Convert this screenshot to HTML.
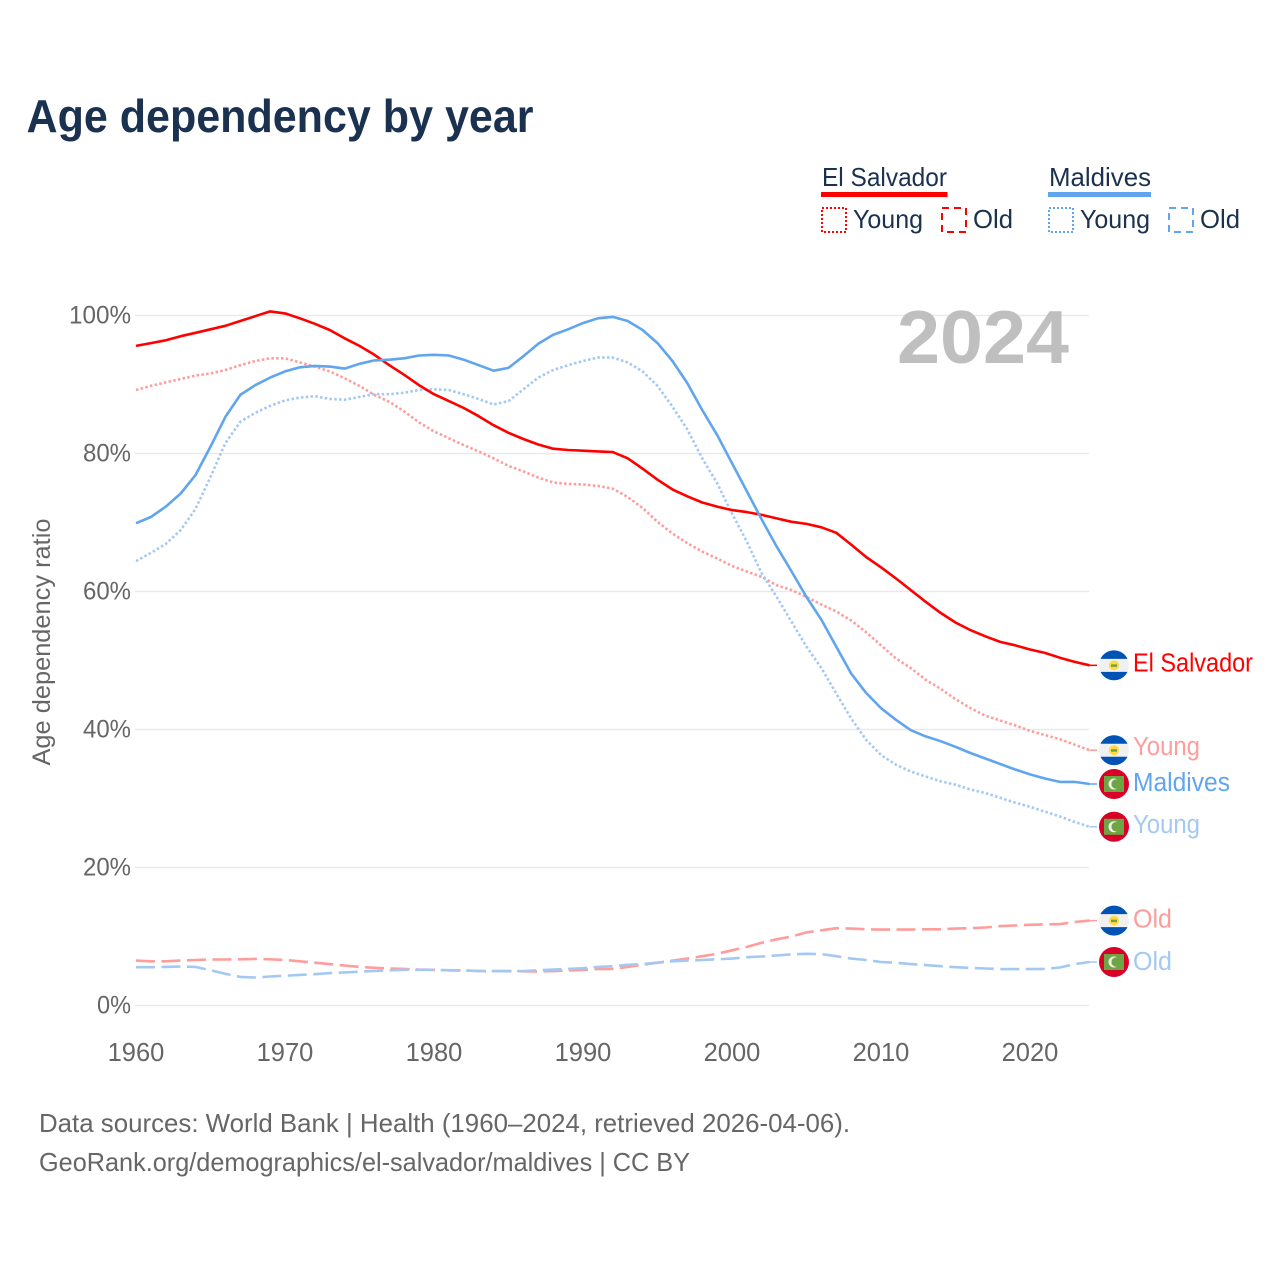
<!DOCTYPE html>
<html lang="en">
<head>
<meta charset="utf-8">
<title>Age dependency by year</title>
<style>
html,body{margin:0;padding:0;background:#fff;width:1280px;height:1280px;overflow:hidden}
svg{display:block}
text{font-family:"Liberation Sans",sans-serif}
</style>
</head>
<body>
<svg id="chart" width="1280" height="1280" viewBox="0 0 1280 1280" xmlns="http://www.w3.org/2000/svg">
  <rect x="0" y="0" width="1280" height="1280" fill="#fff"/>
  <text x="26.500" y="132" font-size="46" font-weight="700" fill="#1a3150" textLength="507" lengthAdjust="spacingAndGlyphs">Age dependency by year</text>

  <g font-size="26" fill="#1a3150">
    <text x="822" y="186" textLength="125" lengthAdjust="spacingAndGlyphs">El Salvador</text>
    <rect x="821" y="192" width="126.500" height="5" fill="#ff0000"/>
    <rect x="822" y="208" width="24" height="24" fill="none" stroke="#ff0000" stroke-width="2" stroke-dasharray="2 2"/>
    <text x="853" y="228" textLength="70" lengthAdjust="spacingAndGlyphs">Young</text>
    <rect x="942" y="208" width="24" height="24" fill="none" stroke="#ff0000" stroke-width="2" stroke-dasharray="7 5"/>
    <text x="973" y="228" textLength="40" lengthAdjust="spacingAndGlyphs">Old</text>

    <text x="1049" y="186" textLength="102" lengthAdjust="spacingAndGlyphs">Maldives</text>
    <rect x="1048" y="192" width="103" height="5" fill="#60a5ee"/>
    <rect x="1049" y="208" width="24" height="24" fill="none" stroke="#60a5ee" stroke-width="2" stroke-dasharray="2 2"/>
    <text x="1080" y="228" textLength="70" lengthAdjust="spacingAndGlyphs">Young</text>
    <rect x="1169" y="208" width="24" height="24" fill="none" stroke="#60a5ee" stroke-width="2" stroke-dasharray="7 5"/>
    <text x="1200" y="228" textLength="40" lengthAdjust="spacingAndGlyphs">Old</text>
  </g>

  <g id="grid"></g>
  <g id="yticks"></g>
  <g id="xticks"></g>

  <text transform="translate(50,642) rotate(-90)" text-anchor="middle" font-size="25" fill="#666" textLength="247" lengthAdjust="spacingAndGlyphs">Age dependency ratio</text>
  <text x="897" y="363" font-size="75" font-weight="700" fill="#bfbfbf" textLength="172" lengthAdjust="spacingAndGlyphs">2024</text>

  <g id="series"></g>
  <g id="endpoints"></g>

  <text x="39" y="1132" font-size="26" fill="#666" textLength="811" lengthAdjust="spacingAndGlyphs">Data sources: World Bank | Health (1960–2024, retrieved 2026-04-06).</text>
  <text x="39" y="1171" font-size="26" fill="#666" textLength="651" lengthAdjust="spacingAndGlyphs">GeoRank.org/demographics/el-salvador/maldives | CC BY</text>
</svg>

<script>
const startYear = 1960;
const xTicks = [1960, 1970, 1980, 1990, 2000, 2010, 2020];
const yTicks = [0, 20, 40, 60, 80, 100];

const elSalvadorTotal = [
  95.6,96.0,96.4,97.0,97.5,98.0,98.5,99.2,99.9,100.6,
  100.3,99.6,98.8,97.9,96.7,95.6,94.3,92.8,91.4,89.9,
  88.6,87.6,86.6,85.4,84.1,83.0,82.1,81.3,80.7,80.5,
  80.4,80.3,80.2,79.3,77.8,76.2,74.8,73.8,72.9,72.3,
  71.8,71.5,71.1,70.6,70.1,69.8,69.3,68.5,66.8,65.0,
  63.5,61.9,60.2,58.5,56.9,55.5,54.4,53.5,52.7,52.2,
  51.6,51.1,50.4,49.8,49.3];
const maldivesTotal = [
  69.9,70.8,72.3,74.2,76.9,81.0,85.3,88.5,89.9,91.0,
  91.9,92.5,92.7,92.6,92.3,93.0,93.5,93.6,93.8,94.2,
  94.3,94.2,93.6,92.8,92.0,92.4,94.1,95.9,97.2,98.0,
  98.9,99.6,99.8,99.2,97.9,96.0,93.4,90.2,86.3,82.7,
  78.6,74.5,70.4,66.5,62.9,59.2,55.9,52.0,48.1,45.3,
  43.1,41.4,39.9,39.0,38.3,37.5,36.6,35.8,35.0,34.2,
  33.5,32.9,32.4,32.4,32.1];
const elSalvadorYoung = [
  89.2,89.8,90.3,90.8,91.3,91.6,92.1,92.8,93.4,93.8,
  93.8,93.2,92.6,91.9,90.9,89.8,88.5,87.5,86.1,84.5,
  83.2,82.2,81.2,80.3,79.3,78.2,77.4,76.5,75.8,75.6,
  75.5,75.3,74.9,73.7,72.1,70.1,68.4,67.0,65.8,64.8,
  63.7,62.9,62.1,60.9,60.2,59.2,58.1,57.1,55.8,54.1,
  52.2,50.3,48.9,47.2,45.9,44.4,43.1,42.0,41.3,40.6,
  39.8,39.2,38.6,37.8,37.0];
const maldivesYoung = [
  64.4,65.6,66.9,68.9,72.0,76.6,81.5,84.6,85.9,86.9,
  87.7,88.1,88.3,87.9,87.8,88.2,88.6,88.6,88.8,89.2,
  89.3,89.2,88.6,87.9,87.1,87.6,89.3,91.0,92.1,92.8,
  93.4,93.9,93.9,93.2,91.9,89.8,86.8,83.5,79.3,75.7,
  71.3,67.2,62.6,59.2,55.6,52.0,48.9,45.2,41.6,38.5,
  36.3,34.9,33.9,33.2,32.5,32.0,31.3,30.8,30.1,29.4,
  28.8,28.1,27.4,26.6,25.9];
const elSalvadorOld = [
  6.5,6.4,6.4,6.5,6.6,6.67,6.67,6.7,6.76,6.7,
  6.6,6.4,6.2,6.0,5.8,5.6,5.46,5.36,5.3,5.2,
  5.17,5.1,5.07,5.0,4.98,5.0,4.95,4.93,4.98,5.07,
  5.17,5.27,5.3,5.6,5.9,6.2,6.5,6.8,7.15,7.5,
  8.0,8.5,9.1,9.6,10.0,10.6,10.9,11.2,11.15,11.05,
  11.0,11.0,11.0,11.05,11.05,11.15,11.2,11.3,11.5,11.6,
  11.7,11.75,11.8,12.1,12.3];
const maldivesOld = [
  5.55,5.55,5.6,5.65,5.6,5.1,4.6,4.15,4.06,4.2,
  4.3,4.44,4.54,4.7,4.8,4.9,5.0,5.1,5.17,5.17,
  5.17,5.1,5.07,5.0,4.98,4.95,5.0,5.1,5.2,5.3,
  5.4,5.6,5.7,5.9,6.0,6.2,6.4,6.5,6.6,6.7,
  6.8,7.0,7.1,7.25,7.4,7.5,7.45,7.15,6.8,6.6,
  6.3,6.2,6.0,5.85,5.7,5.55,5.45,5.36,5.27,5.27,
  5.27,5.3,5.5,6.0,6.3];

const NS = 'http://www.w3.org/2000/svg';
const xScale = year => 136 + (year - 1960) * 14.9;
const yScale = pct => 1005.5 - pct * 6.9;
const make = (tag, parent, attrs) => {
  const el = document.createElementNS(NS, tag);
  for (const k in attrs) el.setAttribute(k, attrs[k]);
  parent.appendChild(el);
  return el;
};

const gridGroup = document.getElementById('grid');
const yTickGroup = document.getElementById('yticks');
const xTickGroup = document.getElementById('xticks');
const seriesGroup = document.getElementById('series');
const endGroup = document.getElementById('endpoints');

yTicks.forEach(v => {
  const line = make('line', gridGroup, {x1: 135, x2: 1089, y1: yScale(v), y2: yScale(v), stroke: '#e9e9e9', 'stroke-width': 1.5});
  
  
  const label = v + '%';
  const t = make('text', yTickGroup, {x: 131, y: yScale(v) + 8, 'text-anchor': 'end', 'font-size': 25, fill: '#666', textLength: (label.length - 1) * 14 + 20, lengthAdjust: 'spacingAndGlyphs'});
  t.textContent = label;
  
  
});

xTicks.forEach(v => {
  const t = make('text', xTickGroup, {x: xScale(v), y: 1061, 'text-anchor': 'middle', 'font-size': 25.5, fill: '#666'});
  t.textContent = v;
  
  
});

const RED = '#ff0000', BLUE = '#60a5ee', LRED = '#ff9c9c', LBLUE = '#a3c9f3';
const DOT = '2.5 2.3', DASH = '19 6.5';

const seriesList = [
  {id: 'el-salvador-old', values: elSalvadorOld, color: LRED, dash: DASH, label: 'Old', flag: 'sv', w: 39, dy: 7},
  {id: 'maldives-old', values: maldivesOld, color: LBLUE, dash: DASH, label: 'Old', flag: 'mv', w: 39, dy: 8},
  {id: 'el-salvador-young', values: elSalvadorYoung, color: LRED, dash: DOT, label: 'Young', flag: 'sv', w: 67, dy: 5},
  {id: 'maldives-young', values: maldivesYoung, color: LBLUE, dash: DOT, label: 'Young', flag: 'mv', w: 67, dy: 6},
  {id: 'el-salvador-total', values: elSalvadorTotal, color: RED, dash: '', label: 'El Salvador', flag: 'sv', w: 120, dy: 6},
  {id: 'maldives-total', values: maldivesTotal, color: BLUE, dash: '', label: 'Maldives', flag: 'mv', w: 97, dy: 7}
];

function drawFlag(g, kind, cy) {
  const cx = 1114;
  if (kind === 'sv') {
    make('circle', g, {cx: cx, cy: cy, r: 15, fill: '#f0f0f0'});
    make('path', g, {d: `M${cx-13.5} ${cy-6.500}A15 15 0 0 1 ${cx+13.500} ${cy-6.500}Z`, fill: '#0052b4'});
    make('path', g, {d: `M${cx-13.5} ${cy+6.500}A15 15 0 0 0 ${cx+13.500} ${cy+6.500}Z`, fill: '#0052b4'});
    make('circle', g, {cx: cx, cy: cy, r: 5, fill: '#ffda44'});
    make('rect', g, {x: cx - 3, y: cy - 1, width: 6, height: 2.5, fill: '#6da544'});
  } else {
    make('circle', g, {cx: cx, cy: cy, r: 15, fill: '#d80027'});
    make('rect', g, {x: cx - 10, y: cy - 8, width: 20, height: 16, fill: '#6da544'});
    make('circle', g, {cx: cx, cy: cy, r: 5.5, fill: '#f0f0f0'});
    make('circle', g, {cx: cx + 2.2, cy: cy, r: 4.8, fill: '#6da544'});
  }
}

seriesList.forEach(s => {
  const pts = s.values.map((v, i) => xScale(startYear + i).toFixed(1) + ',' + yScale(v).toFixed(1)).join(' ');
  const attrs = {points: pts, fill: 'none', stroke: s.color, 'stroke-width': 2.6, 'stroke-linejoin': 'round'};
  if (s.dash) attrs['stroke-dasharray'] = s.dash;
  const line = make('polyline', seriesGroup, attrs);
  
  

  const last = s.values[s.values.length - 1];
  const lastX = xScale(startYear + s.values.length - 1);
  const cy = yScale(last);
  const conn = make('line', endGroup, {x1: lastX, x2: 1097, y1: cy, y2: cy, stroke: s.color, 'stroke-width': 1.5});
  
  

  const flag = make('g', endGroup, {});
  
  
  drawFlag(flag, s.flag, cy);

  const t = make('text', endGroup, {x: 1133, y: cy + s.dy, 'font-size': 25.5, fill: s.color, textLength: s.w, lengthAdjust: 'spacingAndGlyphs'});
  t.textContent = s.label;
  
  
});
</script>
</body>
</html>
